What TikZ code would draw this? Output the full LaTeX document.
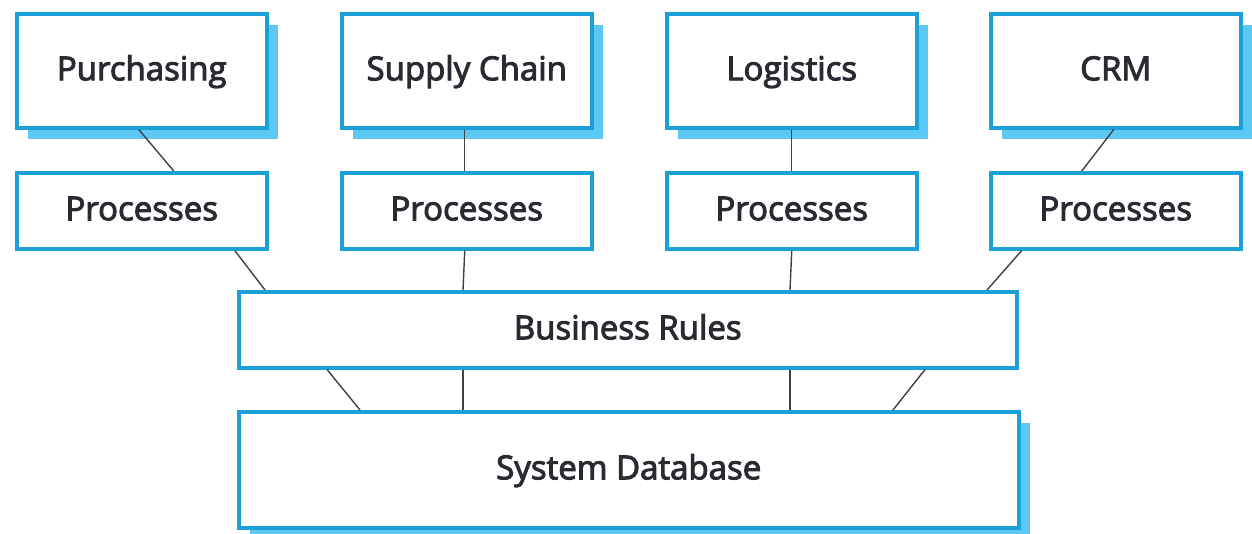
\documentclass[tikz,border=0pt]{standalone}
\usepackage{fontspec}
\setmainfont{Open Sans}
\newfontfamily\boxfont{Open Sans}[FakeBold=3]
\definecolor{bord}{HTML}{1BA0D8}
\definecolor{shad}{HTML}{5CC8F4}
\definecolor{txt}{HTML}{2A2A33}
\begin{document}
\begin{tikzpicture}[x=1pt,y=-1pt,
  box/.style={draw=bord,line width=3.5pt,fill=white,rectangle,inner sep=0pt,text=txt,font=\boxfont\fontsize{33}{36}\selectfont,text height=19pt,text depth=0pt},
  shadowed/.style={preaction={fill=shad,transform canvas={shift={(11pt,-11pt)}}}},
  link/.style={draw=black!75,line width=1.4pt}]
\useasboundingbox (0,0) rectangle (1252,533);
% top boxes
\foreach \i/\x/\t in {1/15/Purchasing,2/340/Supply Chain,3/665/Logistics,4/989/CRM}{
  \node[box,shadowed,minimum width=250pt,minimum height=114pt,anchor=north west] (t\i) at (\x,12) {\t};
  \node[box,minimum width=250pt,minimum height=76pt,anchor=north west] (p\i) at (\x,171) {Processes};
}
\node[box,minimum width=778pt,minimum height=76pt,anchor=north west] (br) at (237,290) {Business Rules};
\node[box,shadowed,minimum width=780pt,minimum height=116pt,anchor=north west] (db) at (237,410) {System Database};
% connectors
\draw[link] ([xshift=-3pt]t1.south) -- ([xshift=32pt]p1.north);
\draw[link] ([xshift=-2pt]t2.south) -- ([xshift=-2pt]p2.north);
\draw[link] ([xshift=0pt]t3.south) -- ([xshift=0pt]p3.north);
\draw[link] ([xshift=-2pt]t4.south) -- ([xshift=-34pt]p4.north);
\draw[link] ([xshift=93pt]p1.south) -- (br.north west -| 265,0);
\draw[link] ([xshift=-2pt]p2.south) -- (br.north west -| 463,0);
\draw[link] ([xshift=0pt]p3.south) -- (br.north west -| 790,0);
\draw[link] ([xshift=-94pt]p4.south) -- (br.north west -| 987,0);
\draw[link] (br.south west -| 327,0) -- (db.north west -| 360,0);
\draw[link] (br.south west -| 463,0) -- (db.north west -| 463,0);
\draw[link] (br.south west -| 790,0) -- (db.north west -| 790,0);
\draw[link] (br.south west -| 925,0) -- (db.north west -| 893,0);
\end{tikzpicture}
\end{document}
